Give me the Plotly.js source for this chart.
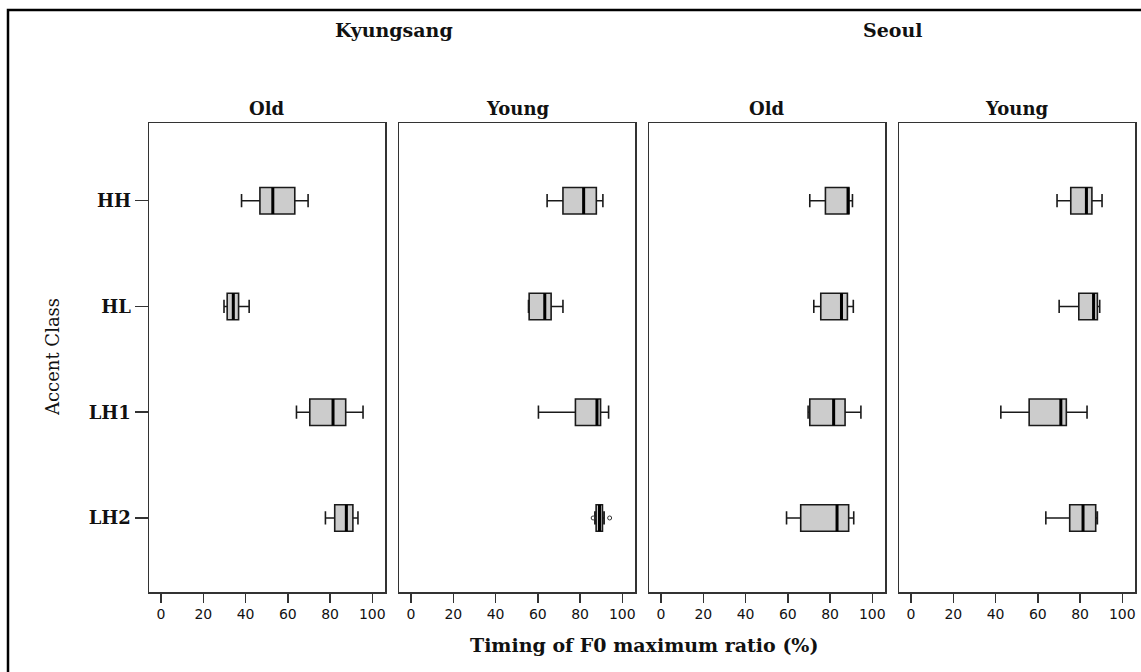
<!DOCTYPE html>
<html>
<head>
<meta charset="utf-8">
<script src="https://cdn.plot.ly/plotly-3.0.1.min.js"></script>
<style>
  html, body { margin: 0; padding: 0; background: #fff; }
  #chart { width: 1141px; height: 672px; }
</style>
</head>
<body>
<div id="chart"></div>
<script>
// ---- Data ----
const categories = ['HH', 'HL', 'LH1', 'LH2'];
const xTickVals = [0, 20, 40, 60, 80, 100];
const regionTitles = ['Kyungsang', 'Seoul'];
const ageTitles = ['Old', 'Young', 'Old', 'Young'];

// Kyungsang – Old
const ksOldMin = [38.1, 29.8, 64.1, 77.8];
const ksOldQ1  = [46.8, 31.3, 70.4, 82.2];
const ksOldMed = [52.9, 34.2, 81.4, 87.7];
const ksOldQ3  = [63.3, 36.7, 87.4, 90.8];
const ksOldMax = [69.6, 41.7, 95.6, 93.2];

// Kyungsang – Young
const ksYoungMin = [64.4, 55.6, 60.3, 87.0];
const ksYoungQ1  = [71.9, 55.9, 77.8, 87.6];
const ksYoungMed = [81.7, 63.3, 88.0, 89.2];
const ksYoungQ3  = [87.7, 66.3, 89.7, 90.6];
const ksYoungMax = [90.8, 71.9, 93.5, 91.4];
const ksYoungOutCat = ['LH2', 'LH2'];
const ksYoungOutVal = [86.2, 94.0];

// Seoul – Old
const seOldMin = [70.4, 72.3, 69.6, 59.4];
const seOldQ1  = [77.8, 75.6, 70.4, 66.1];
const seOldMed = [88.5, 85.4, 81.7, 83.3];
const seOldQ3  = [88.9, 88.2, 87.1, 88.8];
const seOldMax = [90.6, 91.0, 94.6, 91.2];

// Seoul – Young
const seYoungMin = [69.1, 70.1, 42.5, 63.8];
const seYoungQ1  = [75.6, 79.4, 55.9, 75.1];
const seYoungMed = [83.0, 86.4, 70.9, 81.4];
const seYoungQ3  = [85.6, 88.2, 73.5, 87.4];
const seYoungMax = [90.4, 89.3, 83.3, 88.2];

// ---- Build ----
const panels = [
  {min: ksOldMin, q1: ksOldQ1, med: ksOldMed, q3: ksOldQ3, max: ksOldMax},
  {min: ksYoungMin, q1: ksYoungQ1, med: ksYoungMed, q3: ksYoungQ3, max: ksYoungMax},
  {min: seOldMin, q1: seOldQ1, med: seOldMed, q3: seOldQ3, max: seOldMax},
  {min: seYoungMin, q1: seYoungQ1, med: seYoungMed, q3: seYoungQ3, max: seYoungMax}
];

const W = 1141, H = 672;
const panelLeft = [149, 399, 649, 899];
const panelWidth = 236;
const panelTop = 123, panelBottom = 592;
const boxWidth = 0.25;

const serif = '"DejaVu Serif", "Liberation Serif", serif';
const sans = '"DejaVu Sans", "Liberation Sans", sans-serif';

const traces = [];
const layout = {
  width: W, height: H,
  margin: {l: 0, r: 0, t: 0, b: 0},
  paper_bgcolor: '#ffffff',
  plot_bgcolor: '#ffffff',
  showlegend: false,
  boxmode: 'overlay',
  annotations: [],
  shapes: []
};

panels.forEach((p, i) => {
  const xa = i === 0 ? 'x' : 'x' + (i + 1);
  const ya = i === 0 ? 'y' : 'y' + (i + 1);
  traces.push({
    type: 'box', orientation: 'h', xaxis: xa, yaxis: ya,
    y: categories,
    lowerfence: p.min, q1: p.q1, median: p.med, q3: p.q3, upperfence: p.max,
    width: boxWidth, whiskerwidth: 0.5,
    fillcolor: '#cccccc',
    line: {color: '#1a1a1a', width: 1.6},
    hoverinfo: 'skip'
  });
  // thick median bars (degenerate boxes at the median)
  traces.push({
    type: 'box', orientation: 'h', xaxis: xa, yaxis: ya,
    y: categories,
    lowerfence: p.med, q1: p.med, median: p.med, q3: p.med, upperfence: p.med,
    width: boxWidth, whiskerwidth: 0,
    fillcolor: 'rgba(0,0,0,0)',
    line: {color: '#000000', width: 3},
    hoverinfo: 'skip'
  });

  const d0 = panelLeft[i] / W, d1 = (panelLeft[i] + panelWidth) / W;
  const axLine = {showline: true, mirror: true, linecolor: '#333333', linewidth: 1.5, zeroline: false, showgrid: false};
  layout[i === 0 ? 'xaxis' : 'xaxis' + (i + 1)] = Object.assign({
    domain: [d0, d1], anchor: ya,
    range: [-5.7, 106],
    tickmode: 'array', tickvals: xTickVals, ticktext: xTickVals.map(String),
    ticks: 'outside', ticklen: 9, tickwidth: 1.5, tickcolor: '#333333',
    tickfont: {family: sans, size: 14, color: '#111'}
  }, axLine);
  layout[i === 0 ? 'yaxis' : 'yaxis' + (i + 1)] = Object.assign({
    domain: [1 - panelBottom / H, 1 - panelTop / H], anchor: xa,
    type: 'category', categoryorder: 'array', categoryarray: categories,
    range: [3.70, -0.735],
    ticks: i === 0 ? 'outside' : '', ticklen: 13, tickwidth: 1.5, tickcolor: '#333333',
    showticklabels: i === 0,
    tickfont: {family: serif, size: 18, color: '#111', weight: 'bold'}
  }, axLine);

  layout.annotations.push({
    text: '<b>' + ageTitles[i] + '</b>', xref: 'paper', yref: 'paper',
    x: (panelLeft[i] + panelWidth / 2) / W, y: 1 - 109 / H,
    xanchor: 'center', yanchor: 'middle', showarrow: false,
    font: {family: serif, size: 18, color: '#111'}
  });
});

// outliers (Kyungsang Young, LH2)
traces.push({
  type: 'scatter', mode: 'markers', xaxis: 'x2', yaxis: 'y2',
  x: ksYoungOutVal, y: ksYoungOutCat,
  marker: {symbol: 'circle-open', size: 4, color: '#333', line: {width: 1}},
  hoverinfo: 'skip'
});

// Region titles
layout.annotations.push({
  text: '<b>' + regionTitles[0] + '</b>', xref: 'paper', yref: 'paper',
  x: 394 / W, y: 1 - 30 / H, xanchor: 'center', yanchor: 'middle', showarrow: false,
  font: {family: serif, size: 19, color: '#111'}
});
layout.annotations.push({
  text: '<b>' + regionTitles[1] + '</b>', xref: 'paper', yref: 'paper',
  x: 893 / W, y: 1 - 30 / H, xanchor: 'center', yanchor: 'middle', showarrow: false,
  font: {family: serif, size: 19, color: '#111'}
});
// Axis titles
layout.annotations.push({
  text: '<b>Timing of F0 maximum ratio (%)</b>', xref: 'paper', yref: 'paper',
  x: 644 / W, y: 1 - 645 / H, xanchor: 'center', yanchor: 'middle', showarrow: false,
  font: {family: serif, size: 19, color: '#111'}
});
layout.annotations.push({
  text: 'Accent Class', xref: 'paper', yref: 'paper', textangle: -90,
  x: 52 / W, y: 1 - 357 / H, xanchor: 'center', yanchor: 'middle', showarrow: false,
  font: {family: serif, size: 18, color: '#111'}
});

// Outer frame
layout.shapes.push({
  type: 'rect', xref: 'paper', yref: 'paper',
  x0: 8 / W, x1: 1.02, y0: -0.02, y1: 1 - 10 / H,
  line: {color: '#000', width: 2.5}, fillcolor: 'rgba(0,0,0,0)', layer: 'below'
});

Plotly.newPlot('chart', traces, layout, {staticPlot: true, displayModeBar: false});
</script>
</body>
</html>
